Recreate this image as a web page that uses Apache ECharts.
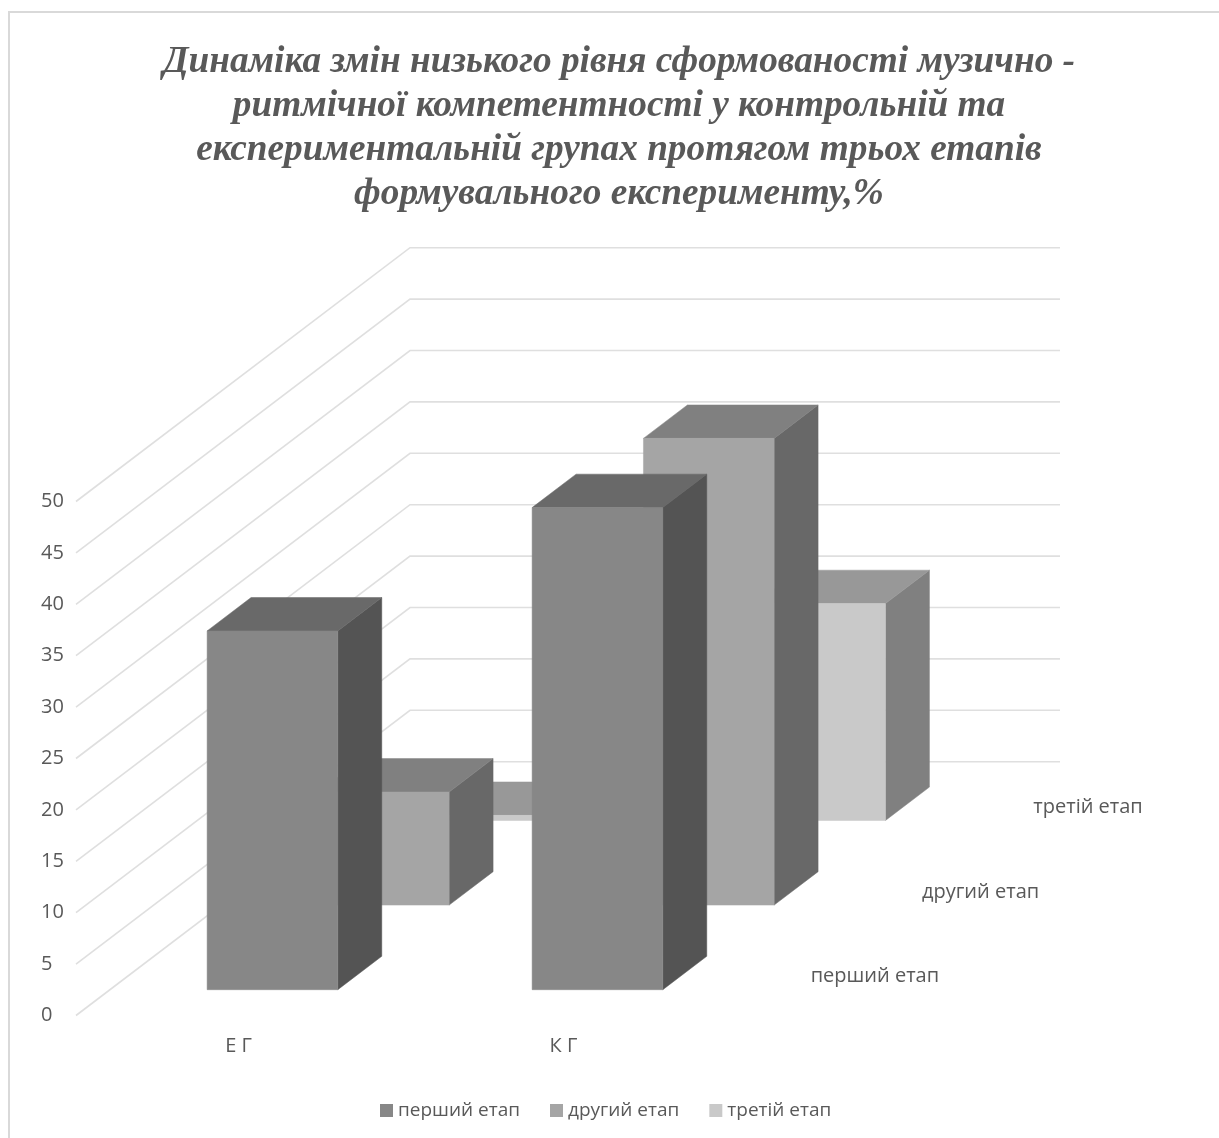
<!DOCTYPE html>
<html>
<head>
<meta charset="utf-8">
<title>Динаміка змін низького рівня</title>
<script src="https://cdn.jsdelivr.net/npm/echarts@6/dist/echarts.min.js"></script>
<style>
html,body{margin:0;padding:0;background:#fff}
#chart{width:1219px;height:1138px}
</style>
</head>
<body>
<div id="chart"></div>
<script>
// Values, %
var categories = ['Е Г', 'К Г'];
var stages = ['перший етап', 'другий етап', 'третій етап'];
var firstStage = [34.9, 46.9];
var secondStage = [11, 45.4];
var thirdStage = [0.5, 21.1];
var valueTicks = [0, 5, 10, 15, 20, 25, 30, 35, 40, 45, 50];
var titleLines = [
  'Динаміка змін низького рівня сформованості музично -',
  'ритмічної компетентності у контрольній та',
  'експериментальній групах протягом трьох етапів',
  'формувального експерименту,%'
];

// Face shades per stage: front, top, side
var stageShades = [
  { front: '#878787', top: '#696969', side: '#545454' },
  { front: '#a5a5a5', top: '#808080', side: '#686868' },
  { front: '#c9c9c9', top: '#989898', side: '#808080' }
];

// Oblique projection of the depth axis: pixel shift of the whole floor
var DEPTH_X = 334;
var DEPTH_Y = -253.8;
var ROWS = stages.length;
var ROW_X = DEPTH_X / ROWS;
var ROW_Y = DEPTH_Y / ROWS;
var BAR_WIDTH = 0.402;   // share of a category
var BAR_DEPTH = 0.395;   // share of a row
var ROW_INSET = 0.305;   // gap in front of a bar, share of a row

function columnRenderer(row) {
  return function (params, api) {
    var cat = api.value(0);
    var top = api.coord([cat, api.value(1)]);
    var base = api.coord([cat, 0]);
    var w = api.size([1, 0])[0] * BAR_WIDTH;
    var sx = ROW_X * (row + ROW_INSET);
    var sy = ROW_Y * (row + ROW_INSET);
    var dx = ROW_X * BAR_DEPTH;
    var dy = ROW_Y * BAR_DEPTH;
    var x0 = base[0] + sx - w / 2;
    var x1 = x0 + w;
    var yb = base[1] + sy;
    var yt = top[1] + sy;
    var shade = stageShades[row];
    function face(points, fill) {
      return { type: 'polygon', shape: { points: points },
        style: { fill: fill, stroke: fill, lineWidth: 0.5 } };
    }
    return {
      type: 'group',
      children: [
        face([[x1, yt], [x1 + dx, yt + dy], [x1 + dx, yb + dy], [x1, yb]], shade.side),
        face([[x0, yt], [x0 + dx, yt + dy], [x1 + dx, yt + dy], [x1, yt]], shade.top),
        face([[x0, yt], [x1, yt], [x1, yb], [x0, yb]], shade.front)
      ]
    };
  };
}

function columnSeries(name, values, row) {
  return {
    type: 'custom',
    name: name,
    coordinateSystem: 'cartesian2d',
    renderItem: columnRenderer(row),
    encode: { x: 0, y: 1 },
    data: values.map(function (v, i) { return [i, v]; }),
    itemStyle: { color: stageShades[row].front },
    z: 10 - row,
    silent: true
  };
}

// Side wall and back wall lines for each value tick
var wallSeries = {
  type: 'custom',
  coordinateSystem: 'cartesian2d',
  silent: true,
  z: 1,
  encode: { y: 0 },
  data: valueTicks.map(function (v) { return [v]; }),
  renderItem: function (params, api) {
    var v = api.value(0);
    var left = api.coord([0, v]);
    var right = api.coord([categories.length - 1, v]);
    var cw = api.size([1, 0])[0];
    var x0 = left[0] - cw / 2;
    var x1 = right[0] + cw / 2;
    return {
      type: 'polyline',
      shape: { points: [[x0, left[1]], [x0 + DEPTH_X, left[1] + DEPTH_Y], [x1 + DEPTH_X, left[1] + DEPTH_Y]] },
      style: { fill: 'none', stroke: '#dfdfdf', lineWidth: 1.6 }
    };
  }
};

// Stage names along the depth axis, to the right of the floor
var stageLabelSeries = {
  type: 'custom',
  coordinateSystem: 'cartesian2d',
  silent: true,
  z: 2,
  encode: { x: 0 },
  data: stages.map(function (s, i) { return [categories.length - 1, i]; }),
  renderItem: function (params, api) {
    var row = api.value(1);
    var base = api.coord([categories.length - 1, 0]);
    var cw = api.size([1, 0])[0];
    return {
      type: 'text',
      style: {
        x: base[0] + cw / 2 + ROW_X * (row + 0.5) + 29,
        y: base[1] + ROW_Y * (row + 0.5) + 3.5,
        text: stages[row],
        fill: '#595959',
        font: '20px "Open Sans"',
        textAlign: 'left',
        textVerticalAlign: 'middle'
      }
    };
  }
};

var chart = echarts.init(document.getElementById('chart'), null, { renderer: 'canvas' });
chart.setOption({
  animation: false,
  backgroundColor: '#ffffff',
  title: {
    text: titleLines.join('\n'),
    left: 614,
    top: 36,
    textAlign: 'center',
    textStyle: {
      fontFamily: '"Liberation Serif"',
      fontWeight: 'bold',
      fontStyle: 'italic',
      fontSize: 37.3,
      lineHeight: 43.7,
      color: '#595959'
    }
  },
  legend: {
    data: stages,
    left: 375,
    top: 1096,
    icon: 'rect',
    itemWidth: 13,
    itemHeight: 13,
    itemGap: 30,
    textStyle: { fontFamily: '"Open Sans"', fontSize: 19, color: '#595959' }
  },
  grid: { left: 76, top: 501.5, width: 650, height: 514 },
  xAxis: {
    type: 'category',
    data: categories,
    axisLine: { show: false },
    axisTick: { show: false },
    axisLabel: { margin: 21, fontFamily: '"Open Sans"', fontSize: 20, color: '#595959' }
  },
  yAxis: {
    type: 'value',
    min: 0,
    max: 50,
    interval: 5,
    axisLine: { show: false },
    axisTick: { show: false },
    splitLine: { show: false },
    axisLabel: { margin: 35, align: 'left', fontFamily: '"Open Sans"', fontSize: 20, color: '#595959' }
  },
  graphic: [{
    // Chart frame: visible along the left and top edges only
    type: 'polyline',
    silent: true,
    shape: { points: [[9, 1138], [9, 12], [1219, 12]] },
    style: { fill: 'none', stroke: '#d9d9d9', lineWidth: 2 }
  }],
  series: [
    wallSeries,
    stageLabelSeries,
    columnSeries(stages[0], firstStage, 0),
    columnSeries(stages[1], secondStage, 1),
    columnSeries(stages[2], thirdStage, 2)
  ]
});
</script>
</body>
</html>
